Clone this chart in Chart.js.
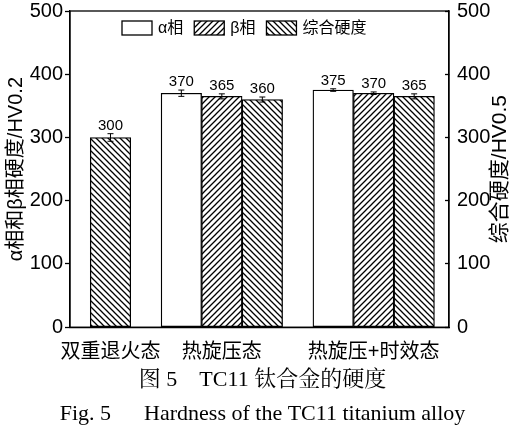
<!DOCTYPE html>
<html>
<head>
<meta charset="utf-8">
<script src="https://cdn.jsdelivr.net/npm/chart.js@4.4.1/dist/chart.umd.min.js"></script>
<style>
html, body { margin: 0; padding: 0; background: #fff; }
#wrap { width: 525px; height: 433px; }
</style>
</head>
<body>
<div id="wrap"><canvas id="graficoDureza"></canvas></div>
<script>
//DATA
const categories = ['双重退火态', '热旋压态', '热旋压+时效态'];
const groupPos = [1, 3.75, 7.5];          // category position on the x scale
const alphaHard = [null, 370, 375];
const betaHard = [null, 365, 370];
const totalHard = [300, 360, 365];
const alphaErr = [null, 5, 2];
const betaErr = [null, 4, 2];
const totalErr = [6, 4, 4];
const hardTicks = [0, 100, 200, 300, 400, 500];

const SANS = "'Liberation Sans', 'Noto Sans CJK SC', sans-serif";
const SERIF = "'Liberation Serif', 'Noto Serif CJK SC', 'Noto Sans CJK SC', serif";

//GENERAL FUNCTIONS
function hatch(dir) {
    const s = 6;
    const c = document.createElement('canvas');
    c.width = s; c.height = s;
    const g = c.getContext('2d');
    g.fillStyle = '#fff';
    g.fillRect(0, 0, s, s);
    g.strokeStyle = '#000';
    g.lineWidth = 1.3;
    g.beginPath();
    if (dir === '/') {
        g.moveTo(0, s); g.lineTo(s, 0);
        g.moveTo(-1, 1); g.lineTo(1, -1);
        g.moveTo(s - 1, s + 1); g.lineTo(s + 1, s - 1);
    } else {
        g.moveTo(0, 0); g.lineTo(s, s);
        g.moveTo(-1, s - 1); g.lineTo(1, s + 1);
        g.moveTo(s - 1, -1); g.lineTo(s + 1, 1);
    }
    g.stroke();
    return g.createPattern(c, 'repeat');
}

function fixAxis(width) {
    return s => {
        s.width = width;
        s.paddingTop = 11;
        s.paddingBottom = 0;
    };
}

const errors = [alphaErr, betaErr, totalErr];

//PLUGINS
const errorAndLabels = {
    id: 'errorAndLabels',
    afterDatasetsDraw(chart) {
        const ctx = chart.ctx;
        const y = chart.scales.y;
        ctx.save();
        ctx.strokeStyle = '#000';
        ctx.fillStyle = '#000';
        ctx.lineWidth = 1;
        ctx.font = '15px ' + SANS;
        ctx.textAlign = 'center';
        ctx.textBaseline = 'alphabetic';
        chart.data.datasets.forEach((ds, i) => {
            const meta = chart.getDatasetMeta(i);
            meta.data.forEach((bar, j) => {
                const v = ds.data[j];
                if (v == null) return;
                const e = errors[i][j];
                const top = y.getPixelForValue(v + e);
                const bot = y.getPixelForValue(v - e);
                ctx.beginPath();
                ctx.moveTo(bar.x, top); ctx.lineTo(bar.x, bot);
                ctx.moveTo(bar.x - 3, top); ctx.lineTo(bar.x + 3, top);
                ctx.moveTo(bar.x - 3, bot); ctx.lineTo(bar.x + 3, bot);
                ctx.stroke();
                ctx.fillText(String(v), bar.x, top - 4);
            });
        });
        ctx.restore();
    }
};

// frame, legend inside the plot and the right axis title (read bottom to top)
const decorations = {
    id: 'decorations',
    afterDraw(chart) {
        const a = chart.chartArea;
        const ctx = chart.ctx;
        ctx.save();
        ctx.strokeStyle = '#000';
        ctx.lineWidth = 1.3;
        ctx.strokeRect(a.left, a.top, a.right - a.left, a.bottom - a.top);

        ctx.font = '16px ' + SANS;
        ctx.textBaseline = 'middle';
        ctx.textAlign = 'left';
        ctx.fillStyle = '#000';
        let x = a.left + 52;
        const yTop = a.top + 10;
        const bw = 30, bh = 14;
        chart.data.datasets.forEach(ds => {
            ctx.fillStyle = ds.backgroundColor;
            ctx.fillRect(x, yTop, bw, bh);
            ctx.strokeRect(x, yTop, bw, bh);
            x += bw + 6;
            ctx.fillStyle = '#000';
            ctx.fillText(ds.label, x, yTop + bh / 2 + 1);
            x += ctx.measureText(ds.label).width + 11;
        });

        const r = chart.scales.y2;
        ctx.font = '21px ' + SANS;
        ctx.textAlign = 'center';
        ctx.translate(r.right - 25, (a.top + a.bottom) / 2);
        ctx.rotate(-Math.PI / 2);
        ctx.fillText('综合硬度/HV0.5', 0, 0);
        ctx.restore();
    }
};

Chart.defaults.font.family = SANS;
Chart.defaults.color = '#000';

const graphicHardness = document.getElementById('graficoDureza');

const graphicForHardness = new Chart(graphicHardness, {
    type: 'bar',
    data: {
        labels: groupPos,
        datasets: [{
            label: 'α相',
            data: alphaHard,
            backgroundColor: '#fff',
            borderColor: '#000',
            borderWidth: 1.3
        }, {
            label: 'β相',
            data: betaHard,
            backgroundColor: hatch('/'),
            borderColor: '#000',
            borderWidth: 1.3
        }, {
            label: '综合硬度',
            data: totalHard,
            backgroundColor: hatch('\\'),
            borderColor: '#000',
            borderWidth: 1.3
        }]
    },
    options: {
        responsive: true,
        maintainAspectRatio: false,
        animation: false,
        skipNull: true,
        barThickness: 40.5,
        borderSkipped: false,
        layout: { padding: 0 },
        scales: {
            x: {
                type: 'linear',
                min: 0,
                max: 9.36,
                offset: false,
                grid: { display: false },
                border: { display: true, color: '#000', width: 1.3 },
                afterBuildTicks: s => { s.ticks = groupPos.map(v => ({ value: v })); },
                afterFit: s => { s.height = 37; },
                ticks: {
                    autoSkip: false,
                    maxRotation: 0,
                    padding: 5,
                    font: { size: 20 },
                    callback: (v, i) => categories[i]
                }
            },
            y: {
                position: 'left',
                min: 0,
                max: 500,
                afterBuildTicks: s => { s.ticks = hardTicks.map(v => ({ value: v })); },
                afterFit: fixAxis(70),
                grid: { drawOnChartArea: false, tickLength: 5, color: '#000', tickWidth: 1.3 },
                border: { display: true, color: '#000', width: 1.3 },
                ticks: { padding: 2, font: { size: 20 } },
                title: {
                    display: true,
                    text: 'α相和β相硬度/HV0.2',
                    font: { size: 20 },
                    padding: { top: 4, bottom: 0 }
                }
            },
            y2: {
                position: 'right',
                min: 0,
                max: 500,
                afterBuildTicks: s => { s.ticks = hardTicks.map(v => ({ value: v })); },
                afterFit: fixAxis(76),
                grid: { drawOnChartArea: false, tickLength: -4, color: '#000', tickWidth: 1.3 },
                border: { display: true, color: '#000', width: 1.3 },
                ticks: { padding: 12, font: { size: 20 } }
            }
        },
        plugins: {
            legend: { display: false },
            tooltip: { enabled: false },
            subtitle: {
                display: true,
                position: 'bottom',
                text: '图 5\u3000TC11 钛合金的硬度',
                font: { family: SERIF, size: 22, weight: 'normal' },
                padding: { top: 3, bottom: 3 }
            },
            title: {
                display: true,
                position: 'bottom',
                text: 'Fig. 5\u2003\u2002Hardness of the TC11 titanium alloy',
                font: { family: SERIF, size: 22, weight: 'normal' },
                padding: { top: 4, bottom: 6 }
            }
        }
    },
    plugins: [errorAndLabels, decorations]
});
</script>
</body>
</html>
